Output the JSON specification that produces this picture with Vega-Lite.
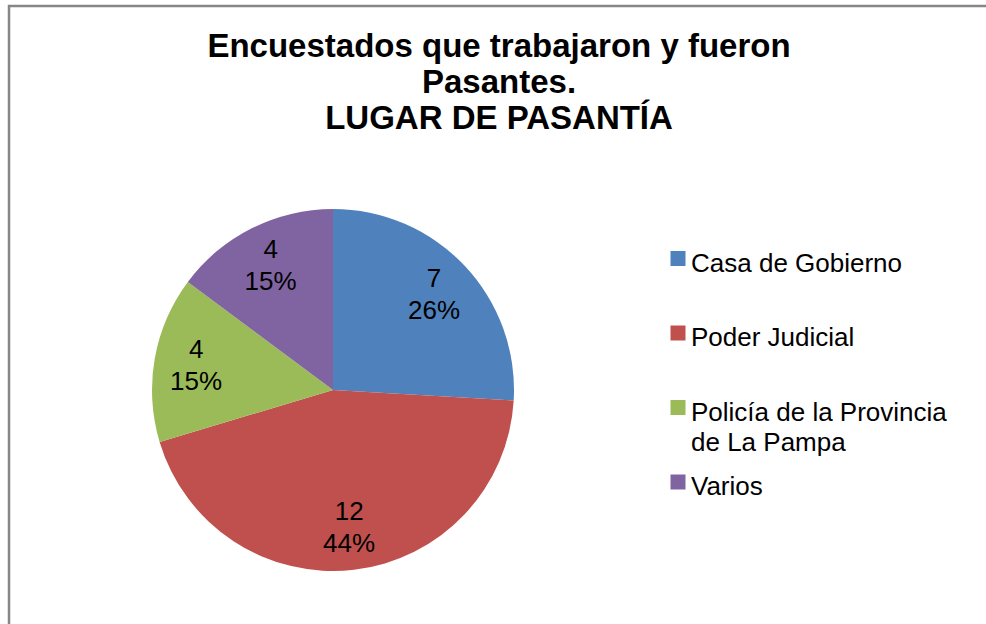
{
  "$schema": "https://vega.github.io/schema/vega-lite/v6.json",
  "autosize": {"type": "none"},
  "padding": {"left": 9, "top": 6, "right": 0, "bottom": 0},
  "width": 980,
  "height": 640,
  "background": "white",
  "view": {"style": "cell", "stroke": "#868686", "strokeWidth": 2.5},
  "config": {
    "view": {"stroke": "#868686", "strokeWidth": 2.5},
    "style": {"view": {"stroke": "#868686", "strokeWidth": 2.5}},
    "font": "Liberation Sans"
  },
  "title": {
    "text": ["Encuestados que trabajaron y fueron", "Pasantes.", "LUGAR DE PASANTÍA"],
    "font": "Liberation Sans",
    "fontSize": 33,
    "fontWeight": "bold",
    "color": "black",
    "lineHeight": 36,
    "anchor": "middle",
    "frame": "group",
    "offset": -130
  },
  "data": {
    "values": [
      {"lugar": "Casa de Gobierno", "cantidad": 7, "porcentaje": "26%"},
      {"lugar": "Poder Judicial", "cantidad": 12, "porcentaje": "44%"},
      {"lugar": "Policía de la Provincia de La Pampa", "cantidad": 4, "porcentaje": "15%"},
      {"lugar": "Varios", "cantidad": 4, "porcentaje": "15%"}
    ]
  },
  "encoding": {
    "theta": {"field": "cantidad", "type": "quantitative", "stack": true},
    "order": {"field": "lugar", "type": "nominal", "sort": "ascending"}
  },
  "layer": [
    {
      "mark": {"type": "arc", "outerRadius": 181, "x": 324, "y": 384},
      "encoding": {
        "color": {
          "field": "lugar",
          "type": "nominal",
          "scale": {
            "domain": ["Casa de Gobierno", "Poder Judicial", "Policía de la Provincia de La Pampa", "Varios"],
            "range": ["#4F81BD", "#C0504D", "#9BBB59", "#8064A2"]
          },
          "legend": {
            "orient": "none",
            "legendX": 656,
            "legendY": 239.5,
            "title": null,
            "symbolType": "square",
            "symbolSize": 225,
            "symbolStrokeWidth": 0,
            "symbolOpacity": 1,
            "labelFontSize": 26,
            "labelFont": "Liberation Sans",
            "labelColor": "black",
            "labelLimit": 500,
            "labelOffset": 0,
            "rowPadding": 13.5,
            "labelBaseline": "middle",
            "labelExpr": "datum.label == 'Policía de la Provincia de La Pampa' ? ['Policía de la Provincia', 'de La Pampa'] : [datum.label, '']",
            "encode": {
              "labels": {"update": {"dy": {"value": 5}, "lineHeight": {"value": 30}}}
            }
          }
        }
      }
    },
    {
      "mark": {"type": "text", "radius": 139, "x": 324, "y": 384, "dy": -16, "fontSize": 26, "font": "Liberation Sans", "color": "black", "baseline": "middle"},
      "encoding": {
        "detail": {"field": "lugar", "type": "nominal"},
        "text": {"field": "cantidad", "type": "quantitative"}
      }
    },
    {
      "mark": {"type": "text", "radius": 139, "x": 324, "y": 384, "dy": 16, "fontSize": 26, "font": "Liberation Sans", "color": "black", "baseline": "middle"},
      "encoding": {
        "detail": {"field": "lugar", "type": "nominal"},
        "text": {"field": "porcentaje", "type": "nominal"}
      }
    }
  ]
}
